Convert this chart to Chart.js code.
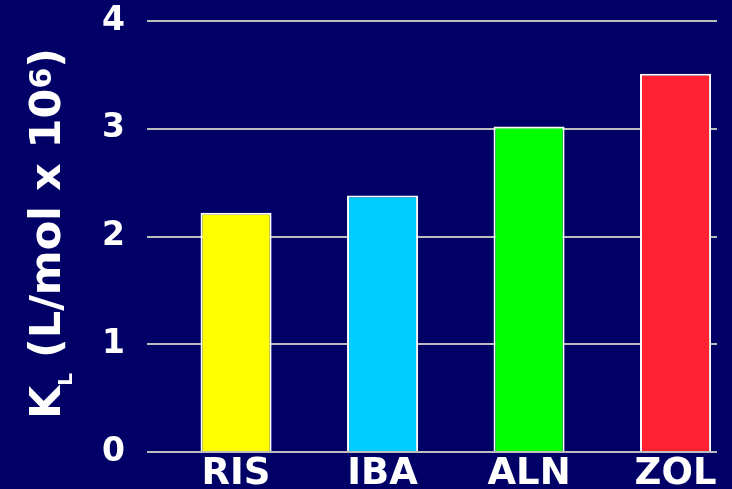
<!DOCTYPE html>
<html>
<head>
<meta charset="utf-8">
<script src="https://cdn.jsdelivr.net/npm/chart.js@4/dist/chart.umd.min.js"></script>
<style>
    html, body { margin: 0; padding: 0; background: #000066; overflow: hidden; }
    #wrap { width: 732px; height: 489px; position: relative; }
</style>
</head>
<body>
<div id="wrap"><canvas id="klChart"></canvas></div>
<script>
const categories = ['RIS', 'IBA', 'ALN', 'ZOL'];
const values = [2.22, 2.38, 3.02, 3.51];
const barColors = ['#ffff00', '#00ccff', '#00ff00', '#ff2233'];
const yTicks = [0, 1, 2, 3, 4];

const FONT = '"DejaVu Sans", Verdana, sans-serif';

// background fill
const bgPlugin = {
    id: 'bg',
    beforeDraw(chart) {
        const c = chart.ctx;
        c.save();
        c.fillStyle = '#000066';
        c.fillRect(0, 0, chart.width, chart.height);
        c.restore();
    }
};

// y title with subscript L and superscript 6
const yTitlePlugin = {
    id: 'yTitle',
    afterDraw(chart) {
        const c = chart.ctx;
        const area = chart.chartArea;
        const parts = [
            { t: 'K', size: 43, dy: 0 },
            { t: 'L', size: 20, dy: 12 },
            { t: ' (L/mol x 10', size: 43, dy: 0 },
            { t: '6', size: 30, dy: -9 },
            { t: ')', size: 43, dy: 0 }
        ];
        c.save();
        c.fillStyle = '#ffffff';
        c.textBaseline = 'alphabetic';
        c.textAlign = 'left';
        let total = 0;
        parts.forEach(p => {
            c.font = 'bold ' + p.size + 'px ' + FONT;
            p.w = c.measureText(p.t).width;
            total += p.w;
        });
        c.translate(60, (area.top + area.bottom) / 2 - 3);
        c.rotate(-Math.PI / 2);
        let x = -total / 2;
        parts.forEach(p => {
            c.font = 'bold ' + p.size + 'px ' + FONT;
            c.fillText(p.t, x, p.dy);
            x += p.w;
        });
        c.restore();
    }
};

new Chart(document.getElementById('klChart').getContext('2d'), {
    type: 'bar',
    data: {
        datasets: [{
            data: values.map((v, i) => ({ x: i, y: v })),
            backgroundColor: barColors,
            borderColor: '#ffffff',
            borderWidth: 2,
            barPercentage: 0.485,
            categoryPercentage: 1
        }]
    },
    options: {
        responsive: true,
        maintainAspectRatio: false,
        animation: false,
        layout: { padding: { top: 0, right: 15, left: 0, bottom: 0 } },
        plugins: {
            legend: { display: false },
            tooltip: { enabled: false }
        },
        scales: {
            x: {
                type: 'linear',
                offset: false,
                bounds: 'data',
                min: -0.608,
                max: 3.283,
                afterBuildTicks: s => { s.ticks = categories.map((c, i) => ({ value: i })); },
                afterFit: s => { s.height = 37; },
                grid: { display: false, drawTicks: false, offset: false },
                border: { display: false },
                ticks: {
                    autoSkip: false,
                    maxRotation: 0,
                    padding: 4,
                    color: '#ffffff',
                    font: { family: FONT, size: 37, weight: 'bold', lineHeight: 1 },
                    callback: v => categories[v] ?? ''
                }
            },
            y: {
                min: yTicks[0],
                max: yTicks[yTicks.length - 1],
                afterFit: s => { s.width = 147; s.paddingTop = 21; s.paddingBottom = 0; },
                grid: { color: '#bdbdbd', lineWidth: 2, drawTicks: false },
                border: { display: false },
                ticks: {
                    stepSize: 1,
                    padding: 22,
                    color: '#ffffff',
                    font: { family: FONT, size: 33, weight: 'bold' },
                    callback: v => yTicks.includes(v) ? String(v) : ''
                }
            }
        }
    },
    plugins: [bgPlugin, yTitlePlugin]
});
</script>
</body>
</html>
